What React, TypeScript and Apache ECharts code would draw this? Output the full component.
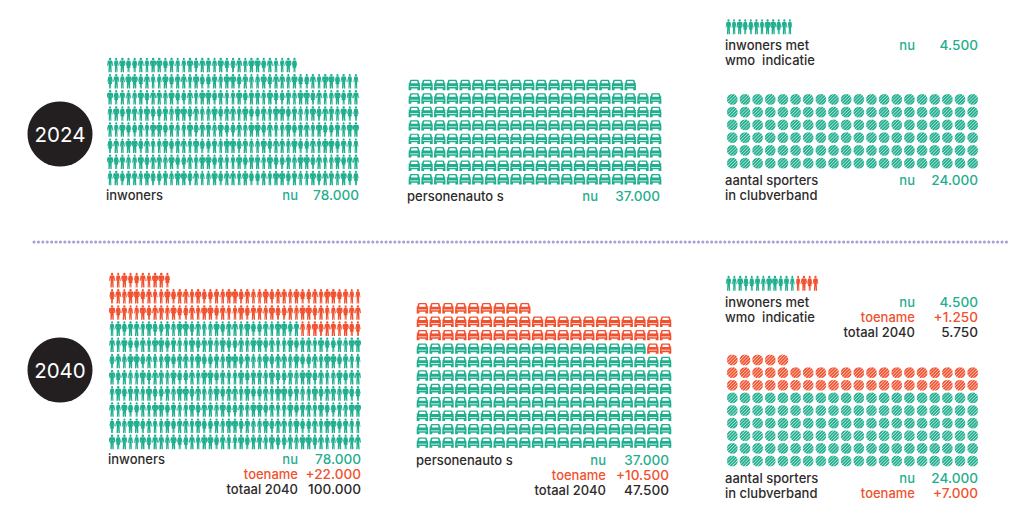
import React, { useEffect, useRef } from "react";
import * as echarts from "echarts";

// ---------- data: icons per row, top row first ----------
const inwoners2024Now = [31, 41, 41, 41, 41, 41, 41, 41];
const auto2024Now = [18, 20, 20, 20, 20, 20, 20, 20];
const wmo2024Now = [12];
const sport2024Now = [20, 20, 20, 20, 20, 20];

const inwoners2040Now = [0, 0, 0, 31, 41, 41, 41, 41, 41, 41, 41];
const inwoners2040Added = [10, 41, 41, 10, 0, 0, 0, 0, 0, 0, 0];
const auto2040Now = [0, 0, 0, 18, 20, 20, 20, 20, 20, 20, 20];
const auto2040Added = [9, 20, 20, 2, 0, 0, 0, 0, 0, 0, 0];
const wmo2040Now = [12];
const wmo2040Added = [4];
const sport2040Now = [0, 0, 0, 20, 20, 20, 20, 20, 20];
const sport2040Added = [5, 20, 20, 0, 0, 0, 0, 0, 0];

const yearLabels = ["2024", "2040"];
const rowNames = { nu: "nu", toename: "toename", totaal: "totaal 2040" };
const inwonersValues = ["78.000", "+22.000", "100.000"];
const autoValues = ["37.000", "+10.500", "47.500"];
const wmoValues = ["4.500", "+1.250", "5.750"];
const sportValues = ["24.000", "+7.000"];

// ---------- style ----------
const GREEN = "#1fae8e";
const RED = "#f2512f";
const DARK = "#2d2b2b";
const FONT = '500 13px "Inter", "Noto Sans", sans-serif';
const VALUE_FONT = '500 13.6px "Inter", "Noto Sans", sans-serif';

const head = "M18 13a12 12 0 1 0 24 0a12 12 0 1 0 -24 0Z";
const PEOPLE = [
  "path://" + head + "M14 28L46 28Q52 29 54 38L60 82L52 84L46 54L44 92L47 150L33 150L30 98L27 150L13 150L16 92L14 54L8 84L0 82L6 38Q8 29 14 28Z",
  "path://" + head + "M16 28L44 28Q50 29 52 38L60 78L52 82L46 56L52 104L41 104L41 150L32 150L30 108L28 150L19 150L19 104L8 104L14 56L8 82L0 78L8 38Q10 29 16 28Z",
  "path://" + head + "M12 28L48 28Q55 29 57 38L60 62L50 86L44 82L48 60L45 54L45 92L46 150L33 150L30 98L27 150L14 150L15 92L15 54L12 60L16 82L10 86L0 62L3 38Q5 29 12 28Z",
  "path://" + head + "M15 28L45 28Q51 29 52 38L60 86L51 86L45 54L44 94L46 150L33 150L30 100L27 150L14 150L16 94L15 54L9 86L0 86L8 38Q9 29 15 28Z",
];
const PERSON_WIDTH = [1, 0.9, 1.06, 0.84];

const CAR =
  "path://M20 0L80 0Q86 0 88 6L94 32L100 32L100 42L96 42L100 52L100 100L76 100L76 84L24 84L24 100L0 100L0 52L4 42L0 42L0 32L6 32L12 6Q14 0 20 0Z" +
  "M25 12L20 34L80 34L75 12Z" +
  "M13 62L13 69L87 69L87 62Z";

function stripedDisc() {
  const r = 50;
  const gap = 4.6;
  const band = (100 - 4 * gap) / 5;
  const k = Math.SQRT1_2;
  let d = "";
  for (let i = 0; i < 5; i++) {
    const d1 = -r + i * (band + gap) + (i === 0 ? 0.01 : 0);
    const d2 = d1 + band;
    const h1 = Math.sqrt(Math.max(0, r * r - d1 * d1));
    const h2 = Math.sqrt(Math.max(0, r * r - d2 * d2));
    const pt = (o: number, t: number) =>
      `${(r + (o + t) * k).toFixed(2)} ${(r + (o - t) * k).toFixed(2)}`;
    d += `M${pt(d1, h1)}A${r} ${r} 0 0 1 ${pt(d2, h2)}L${pt(d2, -h2)}A${r} ${r} 0 0 1 ${pt(d1, -h1)}Z`;
  }
  return "path://" + d;
}
const BALL = stripedDisc();

type Icon = "person" | "car" | "ball";
type Panel = {
  now: number[];
  added?: number[];
  icon: Icon;
  cols: number;
  left: number;
  top: number;
  width: number;
  height: number;
  size: [number, number];
};

const PANELS: Panel[] = [
  { now: inwoners2024Now, icon: "person", cols: 41, left: 107, top: 57, width: 252, height: 129, size: [6, 14.6] },
  { now: auto2024Now, icon: "car", cols: 20, left: 408, top: 78.3, width: 254, height: 107.6, size: [11.4, 10.4] },
  { now: wmo2024Now, icon: "person", cols: 12, left: 725.7, top: 19, width: 67, height: 15.5, size: [5.6, 15] },
  { now: sport2024Now, icon: "ball", cols: 20, left: 726, top: 93, width: 253, height: 76.5, size: [10.8, 10.8] },
  { now: inwoners2040Now, added: inwoners2040Added, icon: "person", cols: 41, left: 109, top: 272, width: 252, height: 178, size: [6, 14.6] },
  { now: auto2040Now, added: auto2040Added, icon: "car", cols: 20, left: 416, top: 301.6, width: 256, height: 147.7, size: [11.4, 10.4] },
  { now: wmo2040Now, added: wmo2040Added, icon: "person", cols: 16, left: 725.7, top: 275.5, width: 92.7, height: 15.5, size: [5.6, 15] },
  { now: sport2040Now, added: sport2040Added, icon: "ball", cols: 20, left: 726, top: 353.7, width: 253, height: 113.6, size: [10.8, 10.8] },
];

function cell(p: Panel, col: number, row: number) {
  if (p.icon === "person") {
    const v = (col * 3 + row * 5 + (col >> 2)) % PEOPLE.length;
    return {
      value: [col, row],
      symbol: PEOPLE[v],
      symbolSize: [p.size[0] * PERSON_WIDTH[v], p.size[1]],
    };
  }
  return { value: [col, row], symbol: p.icon === "car" ? CAR : BALL, symbolSize: p.size };
}

function cells(p: Panel, kind: "now" | "added") {
  const out: any[] = [];
  p.now.forEach((n, row) => {
    const extra = p.added ? p.added[row] : 0;
    const from = kind === "now" ? 0 : n;
    const to = kind === "now" ? n : n + extra;
    for (let col = from; col < to; col++) out.push(cell(p, col, row));
  });
  return out;
}

function buildOption() {
  const grid: any[] = [];
  const xAxis: any[] = [];
  const yAxis: any[] = [];
  const series: any[] = [];
  PANELS.forEach((p, i) => {
    grid.push({ left: p.left, top: p.top, width: p.width, height: p.height, containLabel: false });
    xAxis.push({ type: "value", gridIndex: i, min: -0.5, max: p.cols - 0.5, show: false });
    yAxis.push({ type: "value", gridIndex: i, inverse: true, min: -0.5, max: p.now.length - 0.5, show: false });
    const common = { type: "scatter", xAxisIndex: i, yAxisIndex: i, silent: true };
    series.push({ ...common, name: "nu", data: cells(p, "now"), itemStyle: { color: GREEN, opacity: 1 } });
    if (p.added) {
      series.push({ ...common, name: "toename", data: cells(p, "added"), itemStyle: { color: RED, opacity: 1 } });
    }
  });

  const text = (t: string, x: number, y: number, fill: string, align = "left", font = FONT) => ({
    type: "text",
    x,
    y,
    silent: true,
    style: { text: t, fill, font, textAlign: align, textVerticalAlign: "middle" },
  });

  const rowSet = (labelX: number, valueX: number, ys: number[], values: string[]) => {
    const names = [rowNames.nu, rowNames.toename, rowNames.totaal];
    const colours = [GREEN, RED, DARK];
    const out: any[] = [];
    values.forEach((v, k) => {
      out.push(text(names[k], labelX, ys[k], colours[k], "right"));
      out.push(text(v, valueX, ys[k], colours[k], "right", VALUE_FONT));
    });
    return out;
  };

  const YEAR_FONT = '400 20.5px "Inter", "Noto Sans", sans-serif';
  const graphic: any[] = [
    { type: "circle", silent: true, shape: { cx: 60, cy: 134, r: 32.5 }, style: { fill: "#231f20" } },
    { type: "circle", silent: true, shape: { cx: 60, cy: 370, r: 32.5 }, style: { fill: "#231f20" } },
    text(yearLabels[0], 60, 134, "#ffffff", "center", YEAR_FONT),
    text(yearLabels[1], 60, 370, "#ffffff", "center", YEAR_FONT),
    {
      type: "line",
      silent: true,
      shape: { x1: 34, y1: 242, x2: 1007, y2: 242 },
      style: { stroke: "#a99fd6", lineWidth: 3, lineDash: [0.1, 4.3], lineCap: "round" },
    },
    // 2024
    text("inwoners", 106, 195, DARK),
    ...rowSet(298, 359, [195], inwonersValues.slice(0, 1)),
    text("personenauto s", 407, 196, DARK),
    ...rowSet(598, 660, [196], autoValues.slice(0, 1)),
    text("inwoners met", 725, 45, DARK),
    text("wmo  indicatie", 725, 60, DARK),
    ...rowSet(915, 978, [45], wmoValues.slice(0, 1)),
    text("aantal sporters", 725, 180, DARK),
    text("in clubverband", 725, 195, DARK),
    ...rowSet(915, 978, [180], sportValues.slice(0, 1)),
    // 2040
    text("inwoners", 108, 459, DARK),
    ...rowSet(298, 361, [459, 474, 489], inwonersValues),
    text("personenauto s", 416, 460, DARK),
    ...rowSet(606, 669, [460, 475, 490], autoValues),
    text("inwoners met", 725, 301.5, DARK),
    text("wmo  indicatie", 725, 316.5, DARK),
    ...rowSet(915, 978, [301.5, 317, 332], wmoValues),
    text("aantal sporters", 725, 478, DARK),
    text("in clubverband", 725, 493, DARK),
    ...rowSet(915, 978, [478, 493], sportValues),
  ];

  return {
    animation: false,
    backgroundColor: "#ffffff",
    grid,
    xAxis,
    yAxis,
    series,
    graphic,
  };
}

export default function App() {
  const ref = useRef<HTMLDivElement>(null);
  useEffect(() => {
    const chart = echarts.init(ref.current!, undefined, { renderer: "svg" });
    chart.setOption(buildOption() as any);
    return () => chart.dispose();
  }, []);
  return <div ref={ref} style={{ position: "absolute", left: 0, top: 0, width: 1024, height: 514 }} />;
}
